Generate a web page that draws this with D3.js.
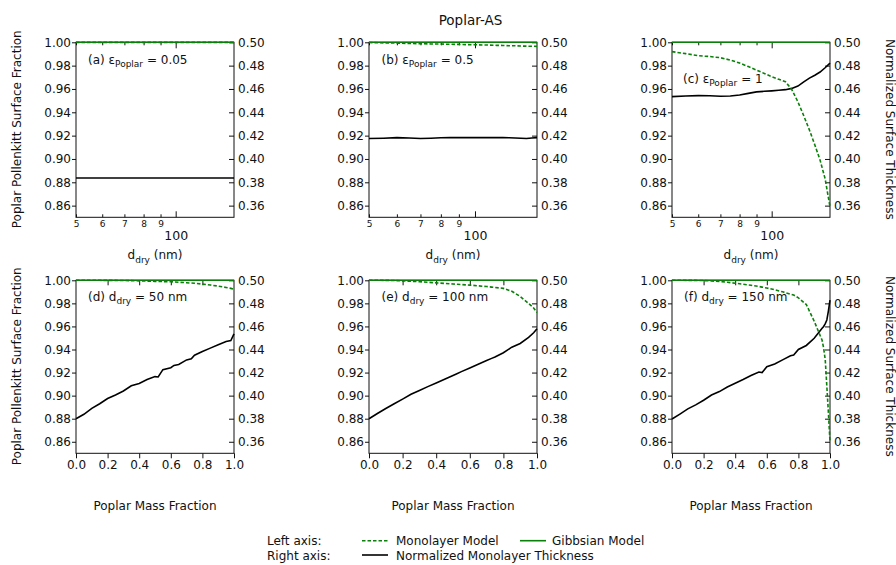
<!DOCTYPE html>
<html>
<head>
<meta charset="utf-8">
<script src="https://cdn.jsdelivr.net/npm/d3@7"></script>
<style>
  body { margin: 0; background: #fff; }
  svg { display: block; font-family: "DejaVu Sans", sans-serif; }
</style>
</head>
<body>
<div class="chart"></div>
<script>
// ---- data ----
// top row: x = dry diameter (nm), log axis
const dryDiam = [50, 55, 60, 65, 70, 75, 80, 85, 90, 95, 100, 105, 110, 115, 120, 125, 130, 135, 140, 145, 150];
const monoA  = [0.9999, 0.9999, 0.9999, 0.9999, 0.9999, 0.9999, 0.9999, 0.9999, 0.9999, 0.9999, 0.9999, 0.9999, 0.9999, 0.9999, 0.9999, 0.9999, 0.9999, 0.9999, 0.9999, 0.9999, 0.9999];
const thickA = [0.3837, 0.3837, 0.3837, 0.3837, 0.3837, 0.3837, 0.3837, 0.3837, 0.3837, 0.3837, 0.3837, 0.3837, 0.3837, 0.3837, 0.3837, 0.3837, 0.3837, 0.3837, 0.3837, 0.3837, 0.3837];
const monoB  = [0.9998, 0.9995, 0.9993, 0.9990, 0.9988, 0.9986, 0.9985, 0.9983, 0.9982, 0.9980, 0.9979, 0.9977, 0.9976, 0.9974, 0.9973, 0.9971, 0.9970, 0.9968, 0.9967, 0.9966, 0.9965];
const thickB = [0.4175, 0.4178, 0.4183, 0.4180, 0.4175, 0.4178, 0.4182, 0.4183, 0.4183, 0.4183, 0.4183, 0.4183, 0.4183, 0.4183, 0.4183, 0.4182, 0.4180, 0.4177, 0.4175, 0.4180, 0.4183];
const monoC  = [0.9920, 0.9903, 0.9885, 0.9878, 0.9868, 0.9848, 0.9822, 0.9792, 0.9762, 0.9733, 0.9705, 0.9683, 0.9662, 0.9595, 0.9490, 0.9370, 0.9248, 0.9120, 0.8990, 0.8830, 0.8590];
const thickC = [0.4534, 0.4540, 0.4543, 0.4542, 0.4538, 0.4540, 0.4548, 0.4562, 0.4575, 0.4580, 0.4584, 0.4589, 0.4594, 0.4605, 0.4625, 0.4660, 0.4693, 0.4718, 0.4745, 0.4782, 0.4822];
const gibbsDiam = [50, 150];
const gibbsTop  = [1.0, 1.0];

// bottom row: x = poplar mass fraction
const massFrac = [0, 0.05, 0.1, 0.15, 0.2, 0.25, 0.3, 0.35, 0.4, 0.45, 0.5, 0.52, 0.55, 0.6, 0.62, 0.65, 0.7, 0.73, 0.75, 0.8, 0.85, 0.9, 0.95, 0.98, 1.0];
const monoD  = [1.0, 1.0, 1.0, 0.99998, 0.99995, 0.9999, 0.9998, 0.9997, 0.9995, 0.9993, 0.9991, 0.9990, 0.9989, 0.9987, 0.9986, 0.9983, 0.9979, 0.9976, 0.9974, 0.9967, 0.9959, 0.9950, 0.9938, 0.9930, 0.9922];
const thickD = [0.3800, 0.3838, 0.3890, 0.3930, 0.3975, 0.4005, 0.4040, 0.4085, 0.4105, 0.4140, 0.4165, 0.4162, 0.4225, 0.4242, 0.4262, 0.4270, 0.4310, 0.4320, 0.4350, 0.4382, 0.4412, 0.4442, 0.4470, 0.4478, 0.4535];
const monoE  = [1.0, 1.0, 0.99995, 0.9998, 0.9995, 0.9992, 0.9988, 0.9983, 0.9978, 0.9973, 0.9968, 0.9966, 0.9963, 0.9958, 0.9956, 0.9952, 0.9946, 0.9941, 0.9938, 0.9930, 0.9905, 0.9860, 0.9800, 0.9760, 0.9720];
const thickE = [0.3800, 0.3845, 0.3888, 0.3930, 0.3970, 0.4012, 0.4045, 0.4078, 0.4110, 0.4142, 0.4175, 0.4188, 0.4208, 0.4240, 0.4253, 0.4272, 0.4305, 0.4323, 0.4335, 0.4372, 0.4420, 0.4452, 0.4505, 0.4545, 0.4580];
const massFracF = [0, 0.05, 0.1, 0.15, 0.2, 0.25, 0.3, 0.35, 0.4, 0.45, 0.5, 0.55, 0.57, 0.6, 0.65, 0.7, 0.75, 0.77, 0.8, 0.85, 0.9, 0.95, 0.96, 0.97, 0.98, 0.99, 1.0];
const monoF  = [1.0, 1.0, 0.99995, 0.9999, 0.9998, 0.9994, 0.9990, 0.9983, 0.9975, 0.9966, 0.9957, 0.9946, 0.9941, 0.9933, 0.9918, 0.9900, 0.9880, 0.9872, 0.9848, 0.9790, 0.9645, 0.9480, 0.9410, 0.9310, 0.9080, 0.8850, 0.8600];
const thickF = [0.3797, 0.3840, 0.3885, 0.3920, 0.3960, 0.4005, 0.4035, 0.4075, 0.4107, 0.4140, 0.4175, 0.4205, 0.4200, 0.4250, 0.4275, 0.4310, 0.4345, 0.4352, 0.4400, 0.4435, 0.4497, 0.4584, 0.4600, 0.4625, 0.4656, 0.4735, 0.4829];
const gibbsMass = [0, 1];
const gibbsBot  = [1.0, 1.0];

// axis ticks
const leftTicks  = [0.86, 0.88, 0.90, 0.92, 0.94, 0.96, 0.98, 1.00];
const rightTicks = [0.36, 0.38, 0.40, 0.42, 0.44, 0.46, 0.48, 0.50];
const logMinor   = [50, 60, 70, 80, 90];
const logMajor   = [100];
const massTicks  = [0, 0.2, 0.4, 0.6, 0.8, 1.0];

const width = 896, height = 565;
const green = "#0a800a";
const cols = [[76, 234], [369, 537], [672, 830]];
const rows = [[42.3, 217.3], [280.3, 453.3]];

const panels = [
  {r: 0, c: 0, x: dryDiam, mono: monoA, thick: thickA, gx: gibbsDiam, gy: gibbsTop, tag: "(a) ", kind: "eps", val: " = 0.05", lx: 88, ly: 63.5},
  {r: 0, c: 1, x: dryDiam, mono: monoB, thick: thickB, gx: gibbsDiam, gy: gibbsTop, tag: "(b) ", kind: "eps", val: " = 0.5", lx: 381.5, ly: 63.5},
  {r: 0, c: 2, x: dryDiam, mono: monoC, thick: thickC, gx: gibbsDiam, gy: gibbsTop, tag: "(c) ", kind: "eps", val: " = 1", lx: 683, ly: 82.5},
  {r: 1, c: 0, x: massFrac, mono: monoD, thick: thickD, gx: gibbsMass, gy: gibbsBot, tag: "(d) ", kind: "d", val: " = 50 nm", lx: 88, ly: 300.5},
  {r: 1, c: 1, x: massFrac, mono: monoE, thick: thickE, gx: gibbsMass, gy: gibbsBot, tag: "(e) ", kind: "d", val: " = 100 nm", lx: 381.5, ly: 300.5},
  {r: 1, c: 2, x: massFracF, mono: monoF, thick: thickF, gx: gibbsMass, gy: gibbsBot, tag: "(f) ", kind: "d", val: " = 150 nm", lx: 684, ly: 300.5}
];

const svg = d3.select(".chart").append("svg")
  .attr("width", width).attr("height", height);

function styleAxis(g, size) {
  g.attr("font-family", "DejaVu Sans, sans-serif").attr("font-size", size);
  g.selectAll("text").attr("fill", "#111");
  g.selectAll("line").attr("stroke", "#111");
  g.select(".domain").remove();
}

panels.forEach(p => {
  const [x0, x1] = cols[p.c];
  const [y0, y1] = rows[p.r];
  const isLog = p.r === 0;
  const x = isLog ? d3.scaleLog().domain([50, 150]).range([x0, x1])
                  : d3.scaleLinear().domain([0, 1]).range([x0, x1]);
  const yL = d3.scaleLinear().domain([0.85, 1.0]).range([y1, y0]);
  const yR = d3.scaleLinear().domain([0.35, 0.50]).range([y1, y0]);

  // left axis
  svg.append("g").attr("transform", `translate(${x0},0)`)
    .call(d3.axisLeft(yL).tickValues(leftTicks).tickSize(4).tickPadding(1).tickFormat(d3.format(".2f")))
    .call(g => styleAxis(g, 12));
  // right axis, ticks point inward
  svg.append("g").attr("transform", `translate(${x1},0)`)
    .call(d3.axisRight(yR).tickValues(rightTicks).tickSize(-5).tickPadding(4).tickFormat(d3.format(".2f")))
    .call(g => styleAxis(g, 12));

  if (isLog) {
    svg.append("g").attr("transform", `translate(0,${y1})`)
      .call(d3.axisBottom(x).tickValues(logMinor).tickSize(-3).tickPadding(3.6).tickFormat(d => d / 10))
      .call(g => styleAxis(g, 9));
    svg.append("g").attr("transform", `translate(0,${y1})`)
      .call(d3.axisBottom(x).tickValues(logMajor).tickSize(-6).tickPadding(13.4).tickFormat(d3.format("d")))
      .call(g => styleAxis(g, 12.5));
    svg.append("g").attr("transform", `translate(0,${y0})`)
      .call(d3.axisTop(x).tickValues(logMinor).tickSize(-3).tickFormat(""))
      .call(g => styleAxis(g, 9));
    svg.append("g").attr("transform", `translate(0,${y0})`)
      .call(d3.axisTop(x).tickValues(logMajor).tickSize(-6).tickFormat(""))
      .call(g => styleAxis(g, 9));
    // x title
    const t = svg.append("text").attr("x", (x0 + x1) / 2).attr("y", 259)
      .attr("text-anchor", "middle").attr("font-size", 12).attr("fill", "#111");
    t.append("tspan").text("d");
    t.append("tspan").attr("font-size", 9).attr("dy", 3.5).text("dry");
    t.append("tspan").attr("dy", -3.5).text(" (nm)");
  } else {
    svg.append("g").attr("transform", `translate(0,${y1})`)
      .call(d3.axisBottom(x).tickValues(massTicks).tickSize(5).tickPadding(2.2).tickFormat(d3.format(".1f")))
      .call(g => styleAxis(g, 12));
    svg.append("g").attr("transform", `translate(0,${y0})`)
      .call(d3.axisTop(x).tickValues(massTicks.slice(1, -1)).tickSize(-5).tickFormat(""))
      .call(g => styleAxis(g, 12));
    svg.append("text").attr("x", (x0 + x1) / 2).attr("y", 510)
      .attr("text-anchor", "middle").attr("font-size", 12).attr("fill", "#111")
      .text("Poplar Mass Fraction");
  }

  // frame
  svg.append("rect").attr("x", x0).attr("y", y0).attr("width", x1 - x0).attr("height", y1 - y0)
    .attr("fill", "none").attr("stroke", "#111").attr("stroke-width", 1);

  // series
  const idx = d3.range(p.x.length);
  svg.append("path")
    .attr("d", d3.line().x(i => x(p.x[i])).y(i => yR(p.thick[i]))(idx))
    .attr("fill", "none").attr("stroke", "#000").attr("stroke-width", 1.6);
  svg.append("path")
    .attr("d", d3.line().x(i => x(p.x[i])).y(i => yL(p.mono[i]))(idx))
    .attr("fill", "none").attr("stroke", green).attr("stroke-width", 1.6)
    .attr("stroke-dasharray", "3.5,2");
  svg.append("path")
    .attr("d", d3.line().x(i => x(p.gx[i])).y(i => yL(p.gy[i]))(d3.range(p.gx.length)))
    .attr("fill", "none").attr("stroke", green).attr("stroke-width", 1.6);

  // panel label
  const lab = svg.append("text").attr("x", p.lx).attr("y", p.ly)
    .attr("font-size", 12).attr("fill", "#111");
  lab.append("tspan").text(p.tag + (p.kind === "eps" ? "\u03B5" : "d"));
  lab.append("tspan").attr("font-size", 9).attr("dy", 3.5).text(p.kind === "eps" ? "Poplar" : "dry");
  lab.append("tspan").attr("dy", -3.5).text(p.val);
});

// axis titles
rows.forEach(([y0, y1]) => {
  const cy = (y0 + y1) / 2 - 0.5 + (y0 > 100 ? 0 : 0);
  svg.append("text").attr("transform", `translate(20.7,${cy}) rotate(-90)`)
    .attr("text-anchor", "middle").attr("font-size", 12).attr("fill", "#111")
    .text("Poplar Pollenkitt Surface Fraction");
  svg.append("text").attr("transform", `translate(886,${cy}) rotate(90)`)
    .attr("text-anchor", "middle").attr("font-size", 12).attr("fill", "#111")
    .text("Normalized Surface Thickness");
});

// title
svg.append("text").attr("x", 470.5).attr("y", 25).attr("text-anchor", "middle")
  .attr("font-size", 13.5).attr("fill", "#111").text("Poplar-AS");

// legend
const leg = svg.append("g").attr("font-size", 12).attr("fill", "#111");
leg.append("text").attr("x", 267).attr("y", 545).text("Left axis:");
leg.append("text").attr("x", 267).attr("y", 559.5).text("Right axis:");
leg.append("line").attr("x1", 362).attr("x2", 388).attr("y1", 540.7).attr("y2", 540.7)
  .attr("stroke", green).attr("stroke-width", 1.6).attr("stroke-dasharray", "3.5,2");
leg.append("text").attr("x", 396).attr("y", 545).text("Monolayer Model");
leg.append("line").attr("x1", 520).attr("x2", 546).attr("y1", 540.7).attr("y2", 540.7)
  .attr("stroke", green).attr("stroke-width", 1.6);
leg.append("text").attr("x", 552).attr("y", 545).text("Gibbsian Model");
leg.append("line").attr("x1", 362).attr("x2", 388).attr("y1", 555).attr("y2", 555)
  .attr("stroke", "#000").attr("stroke-width", 1.6);
leg.append("text").attr("x", 396).attr("y", 559.5).text("Normalized Monolayer Thickness");
</script>
</body>
</html>
